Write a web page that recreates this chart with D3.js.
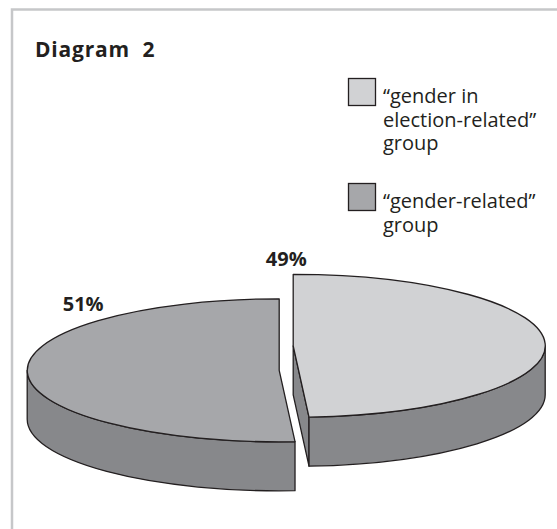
<!DOCTYPE html>
<html>
<head>
<meta charset="utf-8">
<script src="https://cdn.jsdelivr.net/npm/d3@7/dist/d3.min.js"></script>
<style>
  html, body { margin: 0; padding: 0; background: #ffffff; }
  svg { display: block; }
  text { font-family: "Open Sans", "Noto Sans", sans-serif; fill: #231f20; }
</style>
</head>
<body>
<div id="chart"></div>
<script>
// Chart content
const title = "Diagram  2";
const categories = ["“gender in election-related” group", "“gender-related” group"];
const legendLines = [
  ["“gender in", "election-related”", "group"],
  ["“gender-related”", "group"]
];
const shares = [49, 51];
const shareLabels = ["49%", "51%"];

// Styling
const W = 557, H = 529;
const topColors = ["#d1d2d4", "#a6a7aa"];
const sideColor = "#87888b";
const ink = "#231f20";

const svg = d3.select("#chart").append("svg")
  .attr("width", W).attr("height", H);

// Frame
svg.append("rect")
  .attr("x", 12).attr("y", 9.5)
  .attr("width", 700).attr("height", 700)
  .attr("fill", "none")
  .attr("stroke", "#c6c7c9")
  .attr("stroke-width", 2.5);

// Title
svg.append("text")
  .attr("x", 35).attr("y", 57)
  .style("white-space", "pre")
  .style("font-weight", 700)
  .style("font-size", "21px")
  .style("letter-spacing", "0.8px")
  .text(title);

// 3D pie geometry
const center = [286.2, 358.1];
const rx = 252, ry = 71.5, depth = 49;
// explode offsets per slice (right slice pushed back, left slice forward)
const explode = [[7, -12.25], [-7, 12.25]];

const pie = d3.pie().sort(null).value(d => d).startAngle(0).endAngle(2 * Math.PI);
const arcs = pie(shares).map((a, i) => ({
  ...a,
  i,
  c: [center[0] + explode[i][0], center[1] + explode[i][1]]
}));

function pt(c, th, dz = 0) {
  return [c[0] + rx * Math.sin(th), c[1] - ry * Math.cos(th) + dz];
}
const P = p => `${p[0].toFixed(2)},${p[1].toFixed(2)}`;

function topPath(d) {
  const large = (d.endAngle - d.startAngle) > Math.PI ? 1 : 0;
  return `M${P(d.c)}L${P(pt(d.c, d.startAngle))}A${rx},${ry} 0 ${large} 1 ${P(pt(d.c, d.endAngle))}Z`;
}
function wallPath(d) {
  const t1 = Math.max(d.startAngle, Math.PI / 2);
  const t2 = Math.min(d.endAngle, 3 * Math.PI / 2);
  if (t2 <= t1) return null;
  return `M${P(pt(d.c, t1))}A${rx},${ry} 0 0 1 ${P(pt(d.c, t2))}` +
         `L${P(pt(d.c, t2, depth))}A${rx},${ry} 0 0 0 ${P(pt(d.c, t1, depth))}Z`;
}
function cutPaths(d) {
  const out = [];
  // face at end angle faces clockwise; at start angle faces counter-clockwise
  if (Math.sin(d.endAngle) > 1e-6) out.push(d.endAngle);
  if (-Math.sin(d.startAngle) > 1e-6) out.push(d.startAngle);
  return out.map(a =>
    `M${P(d.c)}L${P(pt(d.c, a))}L${P(pt(d.c, a, depth))}L${P([d.c[0], d.c[1] + depth])}Z`);
}

// draw back slice first
const order = arcs.slice().sort((a, b) => a.c[1] - b.c[1]);
const gPie = svg.append("g")
  .attr("stroke", ink)
  .attr("stroke-width", 1.3)
  .attr("stroke-linejoin", "round");

order.forEach(d => {
  const g = gPie.append("g");
  cutPaths(d).forEach(p => g.append("path").attr("d", p).attr("fill", sideColor));
  const w = wallPath(d);
  if (w) g.append("path").attr("d", w).attr("fill", sideColor);
  g.append("path").attr("d", topPath(d)).attr("fill", topColors[d.i]);
});

// Percentage labels, placed just outside the rim
const labelAngles = [-1.3, -40].map(v => v * Math.PI / 180);
const labelReach = 1.21;
arcs.forEach(d => {
  const th = labelAngles[d.i];
  const x = d.c[0] + rx * labelReach * Math.sin(th);
  const y = d.c[1] - ry * labelReach * Math.cos(th);
  svg.append("text")
    .attr("x", x).attr("y", y)
    .attr("text-anchor", "middle")
    .attr("dy", "0.35em")
    .style("font-weight", 700)
    .style("font-size", "20px")
    .text(shareLabels[d.i]);
});

// Legend
const legendX = 348, legendTops = [78, 183];
const lineGap = 23.5;
categories.forEach((c, i) => {
  const g = svg.append("g").attr("transform", `translate(${legendX},${legendTops[i]})`);
  g.append("rect")
    .attr("x", 0.5).attr("y", 0.5)
    .attr("width", 27).attr("height", 27)
    .attr("fill", topColors[i])
    .attr("stroke", ink).attr("stroke-width", 1.3);
  const t = g.append("text")
    .attr("x", 35).attr("y", 25)
    .style("font-size", "20px");
  legendLines[i].forEach((ln, j) => {
    t.append("tspan").attr("x", 35).attr("y", 25 + j * lineGap).text(ln);
  });
});
</script>
</body>
</html>
